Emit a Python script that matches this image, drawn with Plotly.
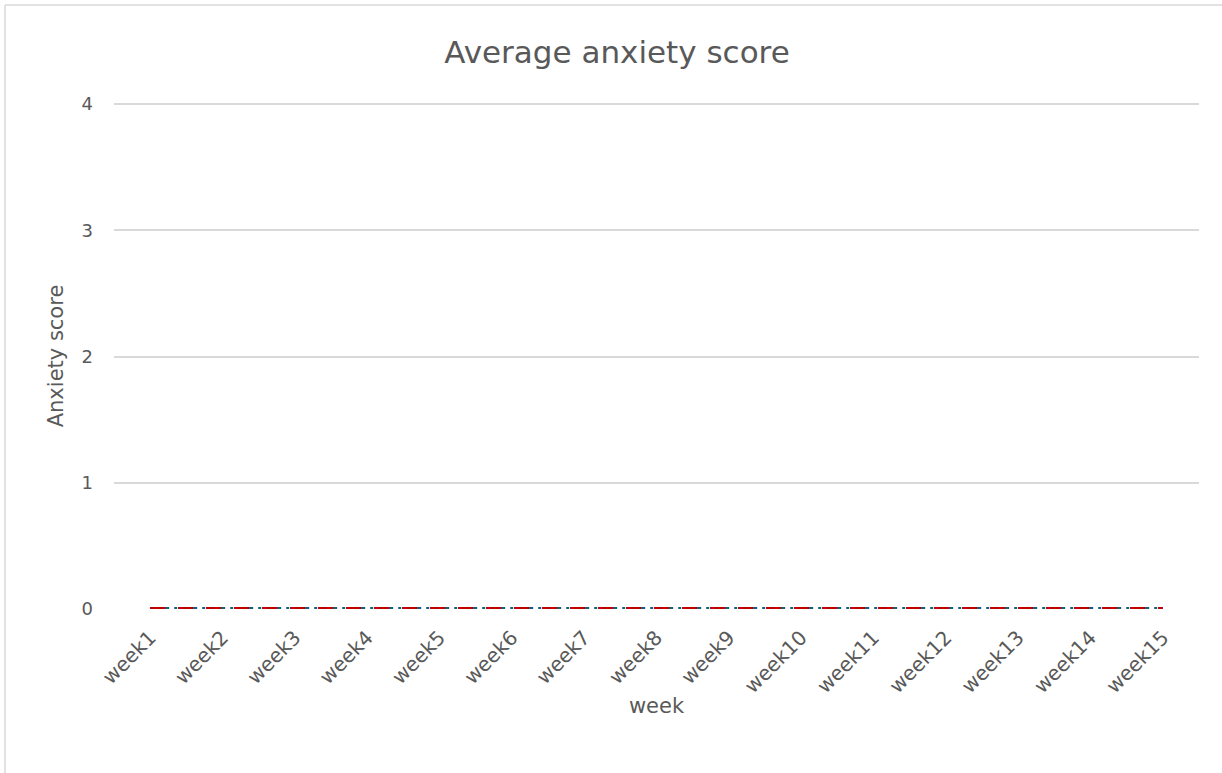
import plotly.graph_objects as go

weeks = ["week1", "week2", "week3", "week4", "week5", "week6", "week7", "week8",
         "week9", "week10", "week11", "week12", "week13", "week14", "week15"]
series_blue = [0, 0, 0, 0, 0, 0, 0, 0, 0, 0, 0, 0, 0, 0, 0]
series_red = [0, 0, 0, 0, 0, 0, 0, 0, 0, 0, 0, 0, 0, 0, 0]
y_ticks = [0, 1, 2, 3, 4]

W, H = 1222, 773
L, R, T, B = 114, 23, 103, 164
pw, ph = W - L - R, H - T - B

fig = go.Figure()
fig.add_trace(go.Scatter(x=weeks, y=series_blue, mode="lines", name="Series 1",
                         line=dict(color="#156082", width=4, dash="19px,5px,3px,1px")))
fig.add_trace(go.Scatter(x=weeks, y=series_red, mode="lines", name="Series 2",
                         line=dict(color="#C00000", width=4, dash="15px,13px")))

grey = "#595959"
fig.update_layout(
    width=W, height=H,
    margin=dict(l=L, r=R, t=T, b=B),
    paper_bgcolor="white", plot_bgcolor="white",
    showlegend=False,
    font=dict(family="DejaVu Sans", color=grey, size=18),
    title=dict(text="Average anxiety score", x=617 / W, xanchor="center",
               y=1 - 52 / H, yanchor="middle", font=dict(size=31, color=grey)),
    xaxis=dict(type="category", range=[-0.5, 14.5], tickangle=-45,
               showgrid=False, zeroline=False, showline=False, ticks="",
               ticklabelstandoff=12,
               tickfont=dict(size=20, color=grey),
               title=dict(text="week", font=dict(size=21, color=grey), standoff=1)),
    yaxis=dict(range=[0, 4.008], tickvals=y_ticks, showgrid=True, gridcolor="#D9D9D9",
               gridwidth=1.5, zeroline=False, showline=False, ticks="",
               ticklabelstandoff=20,
               tickfont=dict(size=18, color=grey),
               title=dict(text="Anxiety score", font=dict(size=21, color=grey), standoff=12)),
    shapes=[
        dict(type="line", xref="paper", yref="paper",
             x0=(5 - L) / pw, x1=(W + 10 - L) / pw,
             y0=(H - B - 5) / ph, y1=(H - B - 5) / ph,
             line=dict(color="#D9D9D9", width=1.5)),
        dict(type="line", xref="paper", yref="paper",
             x0=(5 - L) / pw, x1=(5 - L) / pw,
             y0=(H - B - 5) / ph, y1=(H - B - H - 20) / ph,
             line=dict(color="#D9D9D9", width=1.5)),
    ],
)

fig.write_html("out.html", config={"displayModeBar": False},
               post_script="document.body.style.margin='0';")
